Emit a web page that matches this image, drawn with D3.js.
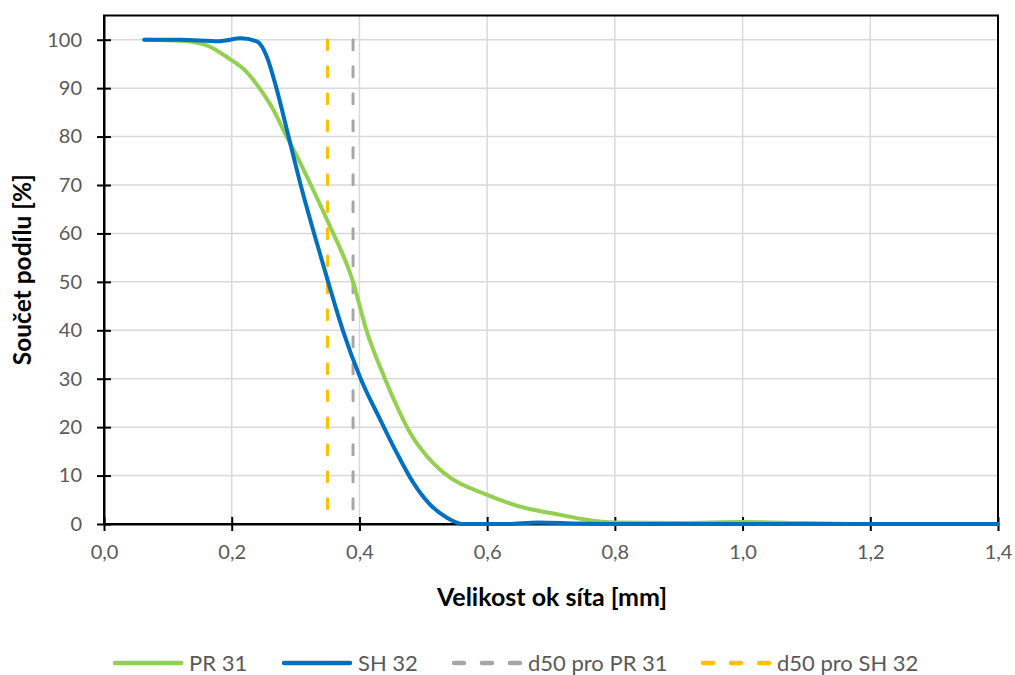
<!DOCTYPE html>
<html>
<head>
<meta charset="utf-8">
<script src="https://cdn.jsdelivr.net/npm/d3@7"></script>
<style>
  html, body { margin: 0; padding: 0; background: #fff; }
  svg { display: block; }
  text { font-family: Lato, "Open Sans", sans-serif; }
</style>
</head>
<body>
<svg id="chart" width="1015" height="675"></svg>
<script>
// Sieve opening [mm] and cumulative passing [%]
const sizesPR31 = [0.063, 0.12, 0.16, 0.196, 0.222, 0.244, 0.265, 0.286, 0.305, 0.324, 0.351, 0.39, 0.411, 0.44, 0.4535, 0.479, 0.505, 0.531, 0.6, 0.66, 0.71, 0.75, 0.8, 0.9, 1.0, 1.1, 1.2, 1.4];
const passPR31  = [100, 99.8, 98.9, 96.1, 93.5, 89.9, 85.6, 80, 75.2, 70, 62.3, 50, 40, 30, 25.8, 18.9, 14.1, 10.7, 6, 3.3, 2.0, 1.0, 0.3, 0.2, 0.4, 0.2, 0, 0];

const sizesSH32 = [0.063, 0.12, 0.18, 0.215, 0.24, 0.255, 0.27, 0.289, 0.308, 0.329, 0.351, 0.374, 0.402, 0.432, 0.458, 0.484, 0.51, 0.536, 0.562, 0.63, 0.68, 0.74, 0.8, 1.0, 1.2, 1.4];
const passSH32  = [100, 100, 99.7, 100.3, 99.6, 96.5, 90, 80, 70, 60, 50, 40, 30, 21.7, 14.8, 8.6, 4.1, 1.4, 0, 0, 0.3, 0.1, 0, 0, 0, 0];

// d50 characteristic sizes [mm]
const d50PR31 = 0.39;
const d50SH32 = 0.35;

const xTicks = [0, 0.2, 0.4, 0.6, 0.8, 1.0, 1.2, 1.4];
const yTicks = [0, 10, 20, 30, 40, 50, 60, 70, 80, 90, 100];

const legendLabels = ["PR 31", "SH 32", "d50 pro PR 31", "d50 pro SH 32"];

const colors = { pr: "#92D050", sh: "#0070C0", d50pr: "#A6A6A6", d50sh: "#FFC000" };

const svg = d3.select("#chart");
const plot = { left: 104, right: 998, top: 15.5, bottom: 524 };

const x = d3.scaleLinear().domain([0, 1.4]).range([plot.left, plot.right]);
const y = d3.scaleLinear().domain([0, 105]).range([plot.bottom, plot.top]);

// gridlines
const grid = svg.append("g");
grid.selectAll(".gx").data(xTicks.slice(1, -1)).join("line")
  .attr("x1", d => x(d)).attr("x2", d => x(d))
  .attr("y1", plot.top).attr("y2", plot.bottom)
  .attr("stroke", "#D9D9D9").attr("stroke-width", 1.5);
grid.selectAll(".gy").data(yTicks.slice(1)).join("line")
  .attr("x1", plot.left).attr("x2", plot.right)
  .attr("y1", d => y(d)).attr("y2", d => y(d))
  .attr("stroke", "#D9D9D9").attr("stroke-width", 1.5);

// plot frame
svg.append("rect")
  .attr("x", plot.left).attr("y", plot.top)
  .attr("width", plot.right - plot.left).attr("height", plot.bottom - plot.top)
  .attr("fill", "none").attr("stroke", "#000").attr("stroke-width", 2);

// axes with ticks crossing the axis line
const xAxis = d3.axisBottom(x).tickValues(xTicks)
  .tickFormat(d => d3.format(".1f")(d).replace(".", ","))
  .tickSizeInner(7).tickSizeOuter(0).tickPadding(14);
const gx = svg.append("g").attr("transform", `translate(0,${plot.bottom})`).call(xAxis);
gx.select(".domain").attr("stroke", "#000").attr("stroke-width", 2);
gx.selectAll(".tick line").attr("y1", -7).attr("y2", 7).attr("stroke", "#000").attr("stroke-width", 2);
gx.selectAll(".tick text").attr("fill", "#595959").style("font-size", "20px").style("font-family", "Lato, sans-serif");

const yAxis = d3.axisLeft(y).tickValues(yTicks)
  .tickSizeInner(7).tickSizeOuter(0).tickPadding(15);
const gy = svg.append("g").attr("transform", `translate(${plot.left},0)`).call(yAxis);
gy.select(".domain").attr("stroke", "#000").attr("stroke-width", 2);
gy.selectAll(".tick line").attr("x1", -7).attr("x2", 7).attr("stroke", "#000").attr("stroke-width", 2);
gy.selectAll(".tick text").attr("fill", "#595959").style("font-size", "20px").style("font-family", "Lato, sans-serif");

// d50 markers
const d50 = [
  { v: d50PR31, c: colors.d50pr },
  { v: d50SH32, c: colors.d50sh }
];
svg.append("g").selectAll("line").data(d50).join("line")
  .attr("x1", d => x(d.v)).attr("x2", d => x(d.v))
  .attr("y1", y(100)).attr("y2", y(0))
  .attr("stroke", d => d.c).attr("stroke-width", 3)
  .attr("stroke-dasharray", "10,17").attr("stroke-linecap", "round");

// grading curves
const line = d3.line().x(d => x(d[0])).y(d => y(d[1])).curve(d3.curveMonotoneX);
const series = [
  { xs: sizesPR31, ys: passPR31, c: colors.pr },
  { xs: sizesSH32, ys: passSH32, c: colors.sh }
];
svg.append("g").selectAll("path").data(series).join("path")
  .attr("d", s => line(d3.zip(s.xs, s.ys)))
  .attr("fill", "none").attr("stroke", s => s.c)
  .attr("stroke-width", 4).attr("stroke-linecap", "round").attr("stroke-linejoin", "round");

// axis titles
svg.append("text")
  .attr("x", 552).attr("y", 606)
  .attr("text-anchor", "middle").attr("font-weight", "bold")
  .style("font-size", "25px").attr("fill", "#000")
  .text("Velikost ok síta [mm]");
svg.append("text")
  .attr("transform", `translate(31,${(plot.top + plot.bottom) / 2}) rotate(-90)`)
  .attr("text-anchor", "middle").attr("font-weight", "bold")
  .style("font-size", "24.5px").attr("fill", "#000")
  .text("Součet podílu [%]");

// legend
const legendItems = [
  { label: legendLabels[0], c: colors.pr, dash: null, x0: 113 },
  { label: legendLabels[1], c: colors.sh, dash: null, x0: 282 },
  { label: legendLabels[2], c: colors.d50pr, dash: "10,18", x0: 452 },
  { label: legendLabels[3], c: colors.d50sh, dash: "10,18", x0: 701 }
];
const lg = svg.append("g").selectAll("g").data(legendItems).join("g")
  .attr("transform", d => `translate(${d.x0},663)`);
lg.append("line")
  .attr("x1", 2).attr("x2", 68).attr("y1", 0).attr("y2", 0)
  .attr("stroke", d => d.c).attr("stroke-width", 4.5)
  .attr("stroke-linecap", "round")
  .attr("stroke-dasharray", d => d.dash);
lg.append("text")
  .attr("x", 76).attr("y", 8)
  .attr("fill", "#595959").style("font-size", "22px")
  .text(d => d.label);
</script>
</body>
</html>
